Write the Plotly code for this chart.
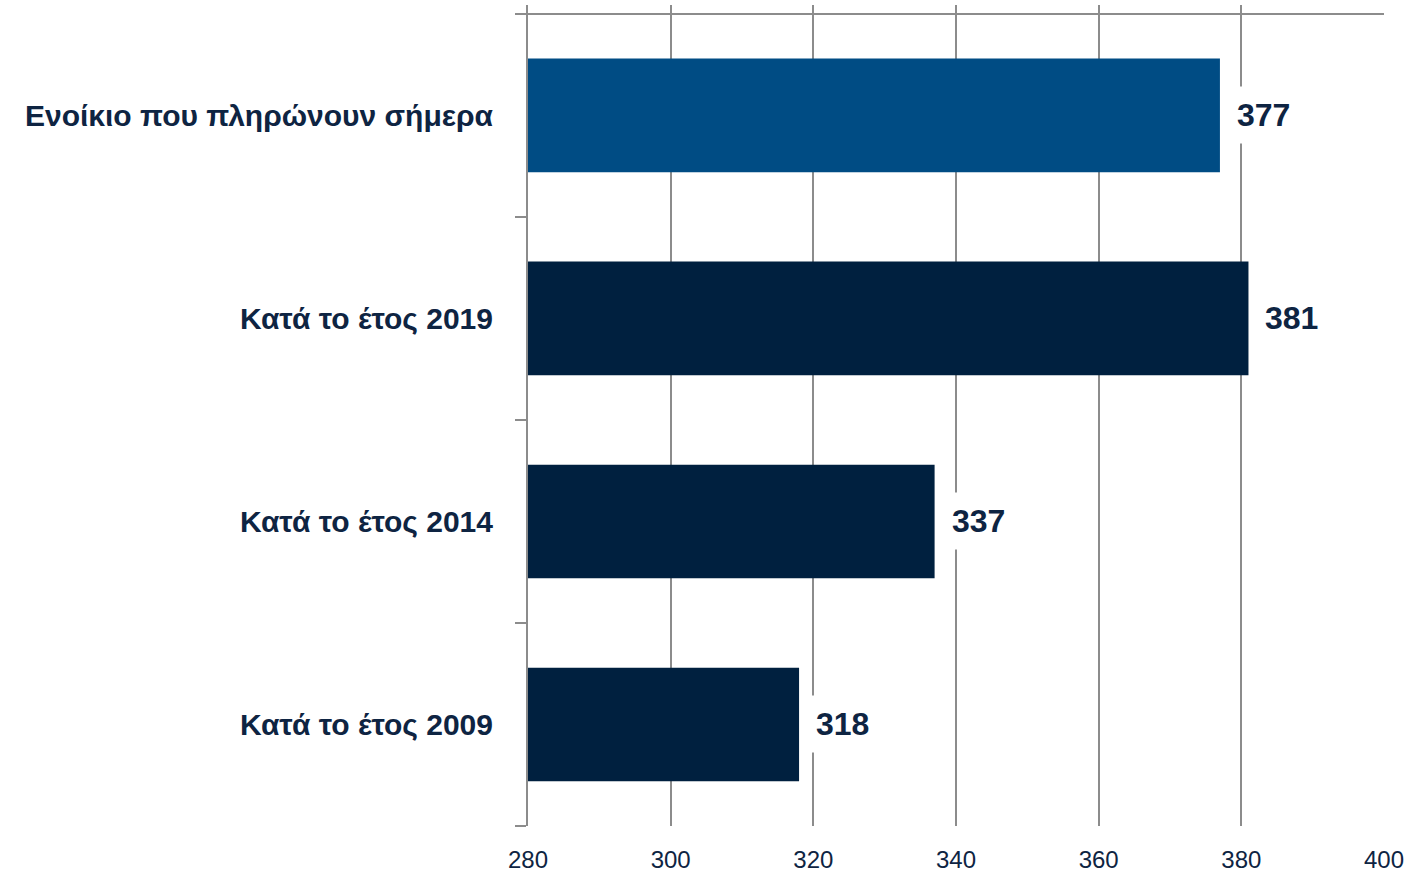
import plotly.graph_objects as go

categories = ["Κατά το έτος 2009", "Κατά το έτος 2014", "Κατά το έτος 2019", "Ενοίκιο που πληρώνουν σήμερα"]
values = [318, 337, 381, 377]
bar_colors = ["#00203f", "#00203f", "#00203f", "#004c84"]
x_ticks = [280, 300, 320, 340, 360, 380, 400]

FONT = "Liberation Sans, Arial, sans-serif"
TXT = "#0e2442"
GRID = "#8c8c8c"

fig = go.Figure()
fig.add_trace(go.Bar(
    y=categories, x=[v - 280 for v in values], base=280, orientation="h",
    marker=dict(color=bar_colors, line=dict(width=0)),
    hoverinfo="skip",
))

for c, v in zip(categories, values):
    fig.add_annotation(
        x=v, y=c, text=f"<b>{v}</b>", showarrow=False,
        xanchor="left", xshift=6, bgcolor="white", borderpad=10,
        font=dict(family=FONT, size=32, color=TXT),
    )

fig.add_shape(type="line", xref="paper", yref="y", x0=-0.0135, x1=1.0, y0=3.5, y1=3.5,
              line=dict(color=GRID, width=2), layer="above")

fig.update_layout(
    width=1405, height=874,
    margin=dict(l=528, r=21, t=5, b=48),
    paper_bgcolor="white", plot_bgcolor="white",
    bargap=0.44, showlegend=False,
    font=dict(family=FONT, color=TXT),
)
fig.update_xaxes(
    range=[280, 400], tickvals=x_ticks, ticktext=[str(t) for t in x_ticks],
    showgrid=True, gridcolor=GRID, gridwidth=2, zeroline=False, showline=False,
    ticks="", ticklabelstandoff=17, automargin=False,
    tickfont=dict(family=FONT, size=24, color=TXT),
)
fig.update_yaxes(
    type="category", categoryorder="array", categoryarray=categories,
    range=[-0.5, 3.544], showgrid=False, zeroline=False,
    showline=True, linecolor=GRID, linewidth=2,
    ticks="outside", tickson="boundaries", ticklen=11, tickcolor=GRID, tickwidth=2,
    ticklabelstandoff=27, automargin=False,
    tickprefix="<b>", ticksuffix="</b>",
    tickfont=dict(family=FONT, size=30, color=TXT),
)

fig.write_html("out.html",
               config={"displayModeBar": False},
               post_script="document.body.style.margin='0';document.body.style.overflow='hidden';")
